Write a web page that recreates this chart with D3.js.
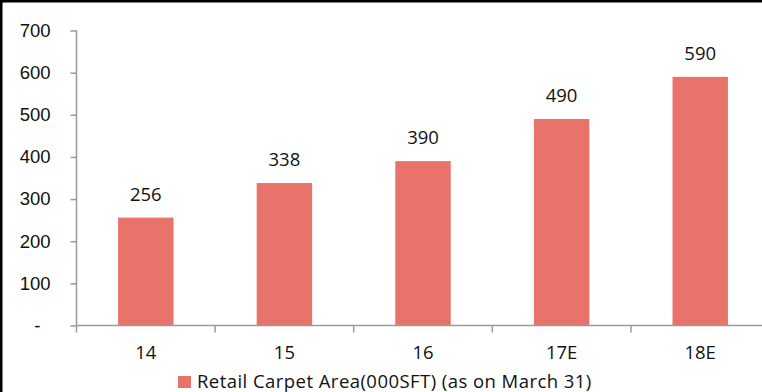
<!DOCTYPE html>
<html>
<head>
<meta charset="utf-8">
<script src="https://cdn.jsdelivr.net/npm/d3@7"></script>
<style>
  body { margin: 0; background: #fff; }
  svg { display: block; font-family: 'Open Sans', sans-serif; }
  .axis path, .axis line { stroke: #9a9a9a; stroke-width: 1.5; }
  .axis text { fill: #111; font-size: 18.5px; }
</style>
</head>
<body>
<svg id="chart" width="762" height="392"></svg>
<script>
'use strict';

// chart data
const years = ['14', '15', '16', '17E', '18E'];
const area = [256, 338, 390, 490, 590];
const yTicks = [0, 100, 200, 300, 400, 500, 600, 700];
const seriesName = 'Retail Carpet Area(000SFT) (as on March 31)';

const svg = d3.select('#chart');
const barColor = '#e8736b';

// scales, plot area roughly from x=76 to past the right edge
const x = d3.scaleBand()
  .domain(years)
  .range([76.5, 769.5])
  .paddingInner(0.6)
  .paddingOuter(0.3);
const y = d3.scaleLinear()
  .domain([0, 700])
  .range([325.5, 30.5]);

// frame lines at top and left
svg.append('line').attr('x1', 0).attr('x2', 762).attr('y1', 1).attr('y2', 1)
  .attr('stroke', '#000').attr('stroke-width', 3);
svg.append('line').attr('x1', 1).attr('x2', 1).attr('y1', 0).attr('y2', 392)
  .attr('stroke', '#000').attr('stroke-width', 3);

// bars
svg.selectAll('rect.bar')
  .data(years)
  .join('rect')
  .attr('class', 'bar')
  .attr('x', (d) => x(d))
  .attr('width', x.bandwidth())
  .attr('y', (d, i) => y(area[i]))
  .attr('height', (d, i) => y(0) - y(area[i]))
  .attr('fill', barColor);

// value labels
svg.selectAll('text.val')
  .data(years)
  .join('text')
  .attr('class', 'val')
  .attr('x', (d) => x(d) + x.bandwidth() / 2)
  .attr('y', (d, i) => y(area[i]) - 17)
  .attr('text-anchor', 'middle')
  .attr('font-size', 18.5)
  .attr('fill', '#111')
  .text((d, i) => area[i]);

// y axis
const yAxis = svg.append('g')
  .attr('class', 'axis')
  .attr('transform', 'translate(76.5,0)')
  .call(d3.axisLeft(y).tickValues(yTicks).tickSize(6).tickPadding(20)
    .tickFormat((d) => (d === 0 ? '-' : d)));
yAxis.select('.domain').attr('d', `M0,${y(700)}V${y(0)}`);
yAxis.selectAll('.tick text').filter((d) => d === 0).attr('dx', -10);

// x axis: ticks sit on the category boundaries
const xAxis = svg.append('g')
  .attr('class', 'axis')
  .attr('transform', `translate(0,${y(0)})`);
xAxis.append('line')
  .attr('x1', 76.5).attr('x2', 762);
const bounds = years.map((d) => x(d) - x.step() * 0.3).concat([x('18E') + x.bandwidth() + x.step() * 0.3]);
xAxis.selectAll('line.tk')
  .data(bounds)
  .join('line')
  .attr('class', 'tk')
  .attr('x1', (d) => d).attr('x2', (d) => d)
  .attr('y1', 0).attr('y2', 7);
xAxis.selectAll('text')
  .data(years)
  .join('text')
  .attr('x', (d) => x(d) + x.bandwidth() / 2)
  .attr('y', 33.5)
  .attr('text-anchor', 'middle')
  .text((d) => d);

// legend
const legend = svg.append('g').attr('transform', 'translate(178,376)');
legend.append('rect').attr('width', 13).attr('height', 12).attr('fill', barColor);
legend.append('text')
  .attr('x', 19).attr('y', 12)
  .attr('font-size', 18.5)
  .attr('letter-spacing', 0.45)
  .attr('fill', '#111')
  .text(seriesName);
</script>
</body>
</html>
